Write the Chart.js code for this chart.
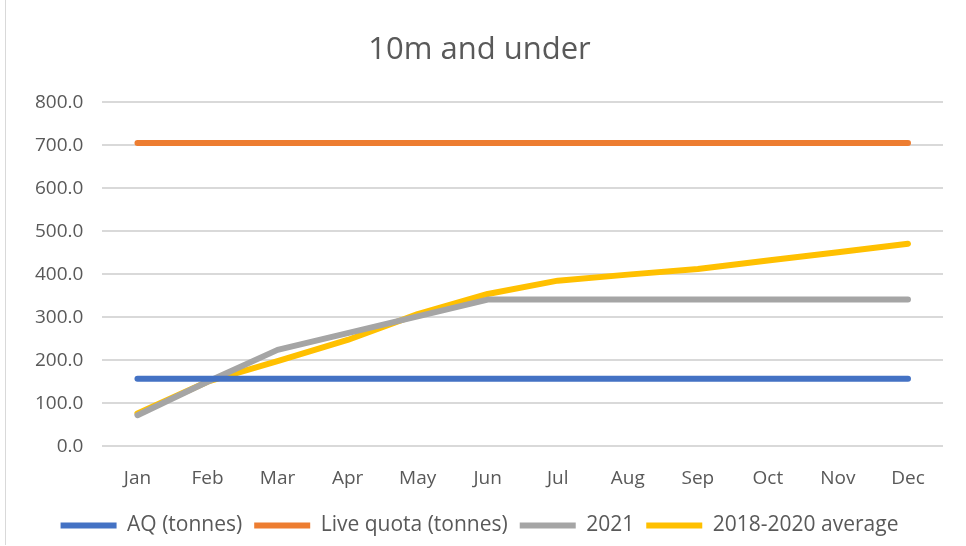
<!DOCTYPE html>
<html>
<head>
<meta charset="utf-8">
<script src="https://cdn.jsdelivr.net/npm/chart.js@4.4.0/dist/chart.umd.min.js"></script>
<style>
  body { margin: 0; background: #fff; }
  #wrap { position: relative; width: 966px; height: 546px; }
  #frame { position: absolute; left: 5px; top: 0; width: 960px; height: 545px; border-left: 1px solid #d9d9d9; box-sizing: border-box; }
</style>
</head>
<body>
<div id="wrap">
  <div id="frame"></div>
  <canvas id="chart" width="966" height="546"></canvas>
</div>
<script>
// Données du graphique
const months = ['Jan', 'Feb', 'Mar', 'Apr', 'May', 'Jun', 'Jul', 'Aug', 'Sep', 'Oct', 'Nov', 'Dec'];
const aqTonnes = [157, 157, 157, 157, 157, 157, 157, 157, 157, 157, 157, 157];
const liveQuota = [705, 705, 705, 705, 705, 705, 705, 705, 705, 705, 705, 705];
const year2021 = [72, 150, 224, 263, 302, 341, 341, 341, 341, 341, 341, 341];
const avg2018to2020 = [76, 150, 198, 247, 307, 354, 385, 399, 412, 432, 451, 471];
const yTicks = [0, 100, 200, 300, 400, 500, 600, 700, 800];

const textColor = '#595959';
const fontFamily = "'Open Sans', sans-serif";

function serie(label, data, color) {
    return {
        label: label,
        data: data,
        borderColor: color,
        backgroundColor: color,
        borderWidth: 6,
        borderCapStyle: 'round',
        borderJoinStyle: 'round',
        pointRadius: 0,
        pointStyle: 'line',
        tension: 0
    };
}

const ctx = document.getElementById('chart').getContext('2d');
new Chart(ctx, {
    type: 'line',
    data: {
        labels: months,
        datasets: [
            serie('AQ (tonnes)', aqTonnes, '#4472c4'),
            serie('Live quota (tonnes)', liveQuota, '#ed7d31'),
            serie('2021', year2021, '#a5a5a5'),
            serie('2018-2020 average', avg2018to2020, '#ffc000')
        ]
    },
    options: {
        responsive: false,
        animation: false,
        layout: { padding: { left: 16, right: 23, top: 24, bottom: 0 } },
        plugins: {
            title: {
                display: true,
                text: '10m and under',
                color: textColor,
                font: { family: fontFamily, size: 31, weight: 'normal' },
                padding: { top: 8, bottom: 33 }
            },
            legend: {
                position: 'bottom',
                labels: {
                    usePointStyle: true,
                    pointStyleWidth: 56,
                    boxHeight: 6,
                    color: textColor,
                    font: { family: fontFamily, size: 21 },
                    padding: 12
                }
            },
            tooltip: { enabled: false }
        },
        scales: {
            x: {
                offset: true,
                grid: { display: false },
                border: { display: false },
                ticks: {
                    color: textColor,
                    font: { family: fontFamily, size: 19 },
                    padding: 13,
                    maxRotation: 0
                }
            },
            y: {
                min: 0,
                max: 800,
                afterBuildTicks: function(axis) {
                    axis.ticks = yTicks.map(v => ({ value: v }));
                },
                grid: { color: '#d9d9d9', lineWidth: 2, drawTicks: false },
                border: { display: false },
                ticks: {
                    color: textColor,
                    font: { family: fontFamily, size: 19 },
                    padding: 19,
                    callback: function(value) { return value.toFixed(1); }
                }
            }
        }
    }
});
</script>
</body>
</html>
